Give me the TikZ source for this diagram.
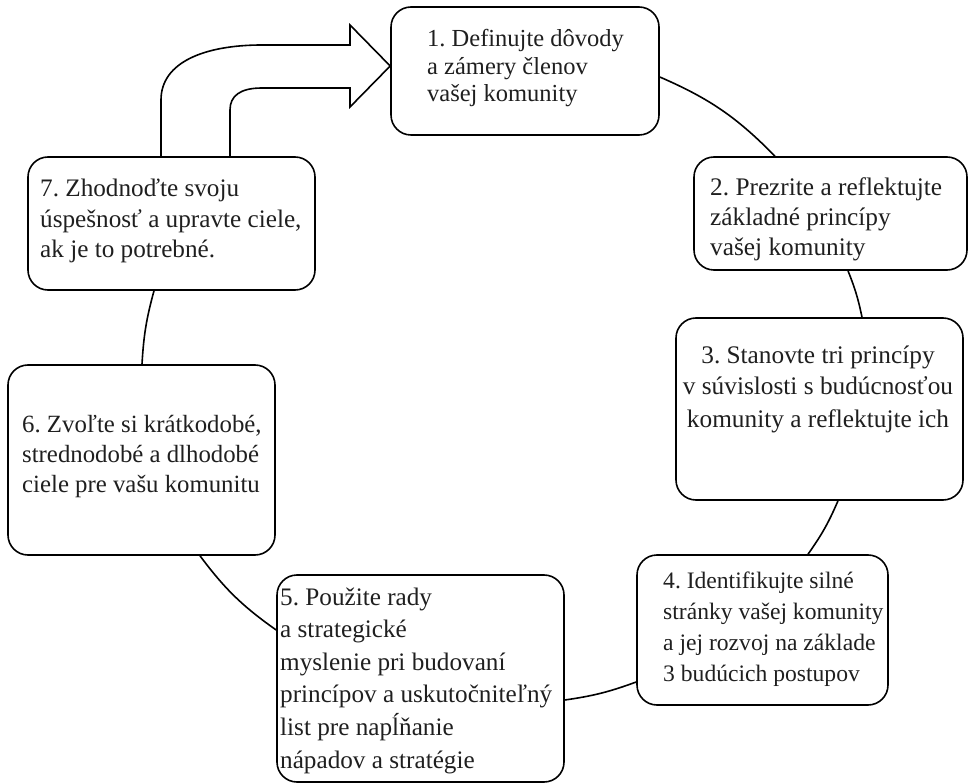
\documentclass[tikz,border=0pt]{standalone}
\usepackage{fontspec}
\setmainfont{Liberation Serif}
\begin{document}
\frenchspacing
\begin{tikzpicture}[x=1pt,y=-1pt,
  box/.style={draw, line width=1.6pt, rounded corners=20pt, inner sep=0pt},
  conn/.style={line width=1.6pt},
  lbl/.style={inner sep=0pt, anchor=base west, text=black!88},
  lblc/.style={inner sep=0pt, anchor=base, text=black!88}]
\useasboundingbox (0,0) rectangle (969,783);
% boxes
\node[box, minimum width=268pt, minimum height=128pt] (b1) at (525,71) {};
\node[box, minimum width=273pt, minimum height=113pt] (b2) at (830.5,213.5) {};
\node[box, minimum width=287pt, minimum height=182pt] (b3) at (819.5,409) {};
\node[box, minimum width=251pt, minimum height=150pt] (b4) at (762.5,630) {};
\node[box, minimum width=287pt, minimum height=207pt] (b5) at (420.5,678.5) {};
\node[box, minimum width=267pt, minimum height=190pt] (b6) at (141.5,460) {};
\node[box, minimum width=287pt, minimum height=133pt] (b7) at (171.5,223.5) {};
% texts
\node[lbl, font=\fontsize{24.5}{27.5}\selectfont] (t1) at (427,47)
  {\begin{tabular}[t]{@{}l@{}}1. Definujte dôvody\\a zámery členov\\vašej komunity\end{tabular}};
\node[lbl, font=\fontsize{25.3}{30}\selectfont] (t2) at (710,196)
  {\begin{tabular}[t]{@{}l@{}}2. Prezrite a reflektujte\\základné princípy\\vašej komunity\end{tabular}};
\node[lblc, font=\fontsize{25.3}{32}\selectfont] (t3) at (818,363)
  {\begin{tabular}[t]{@{}c@{}}3. Stanovte tri princípy\\v súvislosti s budúcnosťou\\komunity a reflektujte ich\end{tabular}};
\node[lbl, font=\fontsize{23.6}{31}\selectfont] (t4) at (663,588)
  {\begin{tabular}[t]{@{}l@{}}4. Identifikujte silné\\stránky vašej komunity\\a jej rozvoj na základe\\3 budúcich postupov\end{tabular}};
\node[lbl, font=\fontsize{25.2}{32.6}\selectfont] (t5) at (280,605)
  {\begin{tabular}[t]{@{}l@{}}5. Použite rady\\a strategické\\myslenie pri budovaní\\princípov a uskutočniteľný\\list pre napĺňanie\\nápadov a stratégie\end{tabular}};
\node[lbl, font=\fontsize{24.8}{30}\selectfont] (t6) at (22,432)
  {\begin{tabular}[t]{@{}l@{}}6. Zvoľte si krátkodobé,\\strednodobé a dlhodobé\\ciele pre vašu komunitu\end{tabular}};
\node[lbl, font=\fontsize{25.2}{30.5}\selectfont] (t7) at (40,197)
  {\begin{tabular}[t]{@{}l@{}}7. Zhodnoďte svoju\\úspešnosť a upravte ciele,\\ak je to potrebné.\end{tabular}};
% block arrow from 7 to 1
\draw[conn, line join=miter] (b7.north -| 161,0) -- (161,100)
  .. controls (161,62) and (205,45) .. (262,45) -- (350,45) -- (350,25)
  -- (b1.west |- 0,66) -- (350,107) -- (350,88) -- (262,88)
  .. controls (240,88) and (230,96) .. (230,110) -- (b7.north -| 230,0);
% cycle connectors
\draw[conn] (b1.east |- 0,77) to[bend left=11] (b2.north -| 775,0);
\draw[conn] (b2.south -| 848,0) to[bend left=5] (b3.north -| 862,0);
\draw[conn] (b3.south -| 838,0) to[bend left=6] (b4.north -| 808,0);
\draw[conn] (b4.west |- 0,682) to[bend left=6] (b5.east |- 0,700);
\draw[conn] (b5.west |- 0,630) to[bend left=9] (b6.south -| 200,0);
\draw[conn] (b6.north -| 142,0) to[bend left=6] (b7.south -| 154,0);
\end{tikzpicture}
\end{document}
